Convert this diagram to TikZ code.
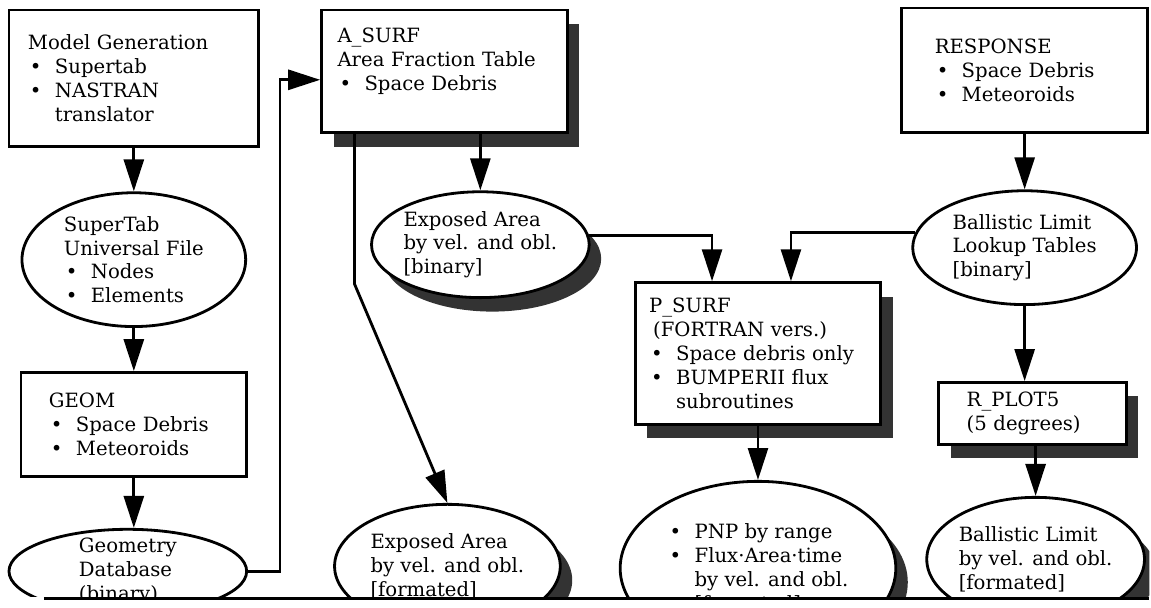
\documentclass[tikz,border=0pt]{standalone}
\usepackage{fontspec}
\setmainfont{DejaVu Serif}
\usetikzlibrary{arrows.meta,shapes.geometric,shadows}
\newcommand{\itm}[1]{\makebox[0.675cm][l]{\hspace{0.05cm}•}#1}
\newcommand{\cnt}[1]{\hspace*{0.675cm}#1}

\begin{document}
\begin{tikzpicture}[font=\fontsize{14}{17}\selectfont,procbox/.style={draw,line width=2pt,fill=white,align=left,inner ysep=0pt},databubble/.style={ellipse,draw,line width=2pt,fill=white,align=left,inner sep=0pt},shadowed/.style={drop shadow={shadow xshift=0.3cm,shadow yshift=-0.35cm,fill=black!80,opacity=1}},arrowstyle/.style={-{Triangle[length=0.8cm,width=0.5cm]},line width=2pt}]
\fill[white] (0,0) rectangle (28.775,-15.2);
\begin{scope}
\clip (0,0) rectangle (28.775,-14.925);
\node[procbox,minimum width=6.25cm,minimum height=3.425cm,text width=5.3cm,inner xsep=0.475cm] (gen) at (3.35,-1.9625) {Model Generation\\\itm{Supertab}\\\itm{NASTRAN}\\\cnt{translator}};
\node[databubble,minimum width=5.6cm,minimum height=3.35cm] (superf) at (3.35,-6.5) {SuperTab\\Universal File\\\itm{Nodes}\\\itm{Elements}};
\node[procbox,minimum width=5.65cm,minimum height=2.6cm,text width=4.25cm,inner xsep=0.7cm] (geom) at (3.35,-10.625) {GEOM\\\itm{Space Debris}\\\itm{Meteoroids}};
\node[databubble,minimum width=5.95cm,minimum height=2.1cm,inner ysep=-0.2cm] (dbase) at (3.2,-14.3) {Geometry\\Database\\(binary)};
\node[procbox,shadowed,minimum width=6.15cm,minimum height=3.075cm,text width=5.35cm,inner xsep=0.4cm] (asurf) at (11.125,-1.7875) {A\_SURF\\Area Fraction Table\\\itm{Space Debris}\\\mbox{}};
\node[databubble,shadowed,minimum width=5.45cm,minimum height=2.65cm] (exbin) at (12.025,-6.125) {Exposed Area\\by vel. and obl.\\{[binary]}};
\node[databubble,shadowed,minimum width=5.65cm,minimum height=3.1cm] (expform) at (11.2,-14.175) {Exposed Area\\by vel. and obl.\\{[formated]}};
\node[procbox,shadowed,minimum width=6.15cm,minimum height=3.55cm,text width=5.45cm,inner xsep=0.35cm] (psurf) at (18.975,-8.85) {P\_SURF\\\hspace*{0.1cm}(FORTRAN vers.)\\\itm{Space debris only}\\\itm{BUMPERII flux}\\\cnt{subroutines}};
\node[databubble,shadowed,minimum width=6.9cm,minimum height=4.35cm] (pnp) at (18.975,-14.225) {\itm{PNP by range}\\\itm{Flux·Area·time}\\\cnt{by vel. and obl.}\\\cnt{[formated]}};
\node[procbox,minimum width=6.15cm,minimum height=3.125cm,text width=4.5cm,inner xsep=0.825cm] (response) at (25.65,-1.7625) {RESPONSE\\\itm{Space Debris}\\\itm{Meteoroids}};
\node[databubble,minimum width=5.6cm,minimum height=2.85cm] (ball) at (25.65,-6.2) {Ballistic Limit\\Lookup Tables\\{[binary]}};
\node[procbox,shadowed,minimum width=4.7cm,minimum height=1.55cm,text width=3.3cm,inner xsep=0.7cm] (rplot) at (25.85,-10.35) {R\_PLOT5\\(5 degrees)};
\node[databubble,shadowed,minimum width=5.45cm,minimum height=3.1cm] (ballf) at (25.925,-14.0) {Ballistic Limit\\by vel. and obl.\\{[formated]}};
\draw[arrowstyle] (gen) -- (superf);
\draw[arrowstyle] (superf) -- (geom);
\draw[arrowstyle] (geom.south) -- (dbase.north -| geom.south);
\draw[arrowstyle] (dbase.east) -- ++(0.8,0) |- ([yshift=-0.21cm]asurf.west);
\draw[arrowstyle] (asurf.south -| exbin.north) -- (exbin.north);
\draw[arrowstyle] ([xshift=-2.25cm]asurf.south) -- ++(0,-3.75) -- (expform.north);
\draw[arrowstyle] (exbin.5) -| ([xshift=-1.15cm]psurf.north);
\draw[arrowstyle] (ball.172) -| ([xshift=0.825cm]psurf.north);
\draw[arrowstyle] (psurf) -- (pnp);
\draw[arrowstyle] (response) -- (ball);
\draw[arrowstyle] (ball.south) -- (ball.south |- rplot.north);
\draw[arrowstyle] (rplot.south -| ballf.north) -- (ballf.north);
\end{scope}
\draw[line width=2.2pt] (1.1,-14.975) -- (28.775,-14.975);
\end{tikzpicture}
\end{document}
